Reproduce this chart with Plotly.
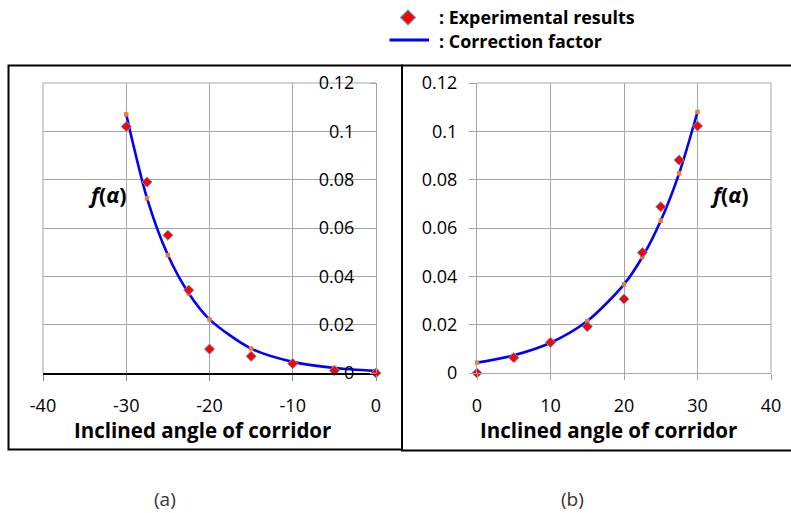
import plotly.graph_objects as go

# ---------------- data ----------------
neg_angle = [-30, -27.5, -25, -22.5, -20, -15, -10, -5, 0]
neg_exp = [0.102, 0.079, 0.057, 0.0343, 0.0099, 0.0069, 0.0039, 0.001, 0.0]
neg_corr = [0.107, 0.0723, 0.0488, 0.033, 0.0222, 0.0101, 0.0046, 0.0021, 0.0009]

pos_angle = [0, 5, 10, 15, 20, 22.5, 25, 27.5, 30]
pos_exp = [0.0, 0.0063, 0.0127, 0.0192, 0.0306, 0.0498, 0.0688, 0.0881, 0.1022]
pos_corr = [0.0043, 0.0073, 0.0125, 0.0215, 0.0367, 0.048, 0.063, 0.0826, 0.108]

neg_ticks = [-40, -30, -20, -10, 0]
neg_tick_text = ["-40", "-30", "-20", "-10", "0"]
pos_ticks = [0, 10, 20, 30, 40]
pos_tick_text = ["0", "10", "20", "30", "40"]
y_ticks = [0, 0.02, 0.04, 0.06, 0.08, 0.1, 0.12]
y_tick_text = ["0", "0.02", "0.04", "0.06", "0.08", "0.1", "0.12"]

series_names = [": Experimental results", ": Correction factor"]
x_title = "Inclined angle of corridor"
panel_labels = ["(a)", "(b)"]

# ---------------- styling ----------------
W, H = 791, 513
FONT = "Open Sans"
GRID = "#a6a6a6"
BLUE = "#0000ff"
ORANGE = "#ed7d31"
RED = "#ff0000"
OUTL = "#5b9bd5"


def px(x):
    return x / W


def py(y):
    return 1 - y / H


fig = go.Figure()

for xs, ys_c, ys_e, xa, ya in [
    (neg_angle, neg_corr, neg_exp, "x", "y"),
    (pos_angle, pos_corr, pos_exp, "x2", "y2"),
]:
    fig.add_trace(go.Scatter(
        x=xs, y=ys_c, mode="lines+markers", xaxis=xa, yaxis=ya,
        line=dict(color=BLUE, width=2.6, shape="spline", smoothing=0.8),
        marker=dict(symbol="square", color=ORANGE, size=4.5),
        showlegend=False, hoverinfo="skip", cliponaxis=False,
    ))
    fig.add_trace(go.Scatter(
        x=xs, y=ys_e, mode="markers", xaxis=xa, yaxis=ya,
        marker=dict(symbol="diamond", color=RED, size=7.8,
                    line=dict(color=OUTL, width=1)),
        showlegend=False, hoverinfo="skip", cliponaxis=False,
    ))

ydom = [py(373), py(83)]
tickfont = dict(family=FONT, size=18, color="black")

fig.update_layout(
    template="none",
    width=W, height=H, autosize=False,
    margin=dict(l=0, r=0, t=0, b=0, pad=0),
    paper_bgcolor="white", plot_bgcolor="white",
    showlegend=False,
    xaxis=dict(
        domain=[px(43), px(376)], range=[-40, 0], anchor="y", automargin=False,
        tickvals=neg_ticks, ticktext=neg_tick_text, tickfont=tickfont,
        showgrid=True, gridcolor=GRID, gridwidth=1, zeroline=False,
        showline=True, linecolor="black", linewidth=1.5,
        ticks="outside", ticklen=6, tickcolor="#888888", ticklabelstandoff=10,
    ),
    yaxis=dict(
        domain=ydom, range=[0, 0.12], anchor="free", position=px(376), side="left",
        automargin=False,
        tickvals=y_ticks, ticktext=y_tick_text, tickfont=tickfont,
        showgrid=True, gridcolor=GRID, gridwidth=1, zeroline=False,
        showline=True, linecolor=GRID, linewidth=1,
        ticks="outside", ticklen=6, tickcolor=GRID, ticklabelstandoff=12,
    ),
    xaxis2=dict(
        domain=[px(477), px(771)], range=[0, 40], anchor="y2", automargin=False,
        tickvals=pos_ticks, ticktext=pos_tick_text, tickfont=tickfont,
        showgrid=True, gridcolor=GRID, gridwidth=1, zeroline=False,
        showline=True, linecolor=GRID, linewidth=1,
        ticks="outside", ticklen=6, tickcolor=GRID, ticklabelstandoff=10,
    ),
    yaxis2=dict(
        domain=ydom, range=[0, 0.12], anchor="x2", side="left", automargin=False,
        tickvals=y_ticks, ticktext=y_tick_text, tickfont=tickfont,
        showgrid=True, gridcolor=GRID, gridwidth=1, zeroline=False,
        showline=True, linecolor=GRID, linewidth=1,
        ticks="outside", ticklen=7, tickcolor=GRID, ticklabelstandoff=8,
    ),
)

shapes = []
# plot-area frame edges (grid coloured)
for xr, yr, edges in [("x", "y", [(0, 0, 0, 1), (0, 1, 1, 1)]),
                      ("x2", "y2", [(1, 0, 1, 1), (0, 1, 1, 1)])]:
    for x0, y0, x1, y1 in edges:
        shapes.append(dict(type="line", xref=f"{xr} domain", yref=f"{yr} domain",
                           x0=x0, y0=y0, x1=x1, y1=y1,
                           line=dict(color=GRID, width=1), layer="below"))
shapes += [
    # panel boxes
    dict(type="rect", xref="paper", yref="paper",
         x0=px(8.5), x1=px(402), y0=py(449.5), y1=py(65.5),
         line=dict(color="black", width=2), layer="above"),
    dict(type="rect", xref="paper", yref="paper",
         x0=px(402), x1=px(805), y0=py(450.5), y1=py(65.5),
         line=dict(color="black", width=2), layer="above"),
    # legend line key
    dict(type="line", xref="paper", yref="paper",
         x0=px(389.5), x1=px(429), y0=py(40), y1=py(40),
         line=dict(color=BLUE, width=3)),
]
# legend diamond key
cx, cy, r = 408, 17.5, 7.5
shapes.append(dict(
    type="path", xref="paper", yref="paper",
    path=f"M {px(cx-r)},{py(cy)} L {px(cx)},{py(cy-r)} L {px(cx+r)},{py(cy)} L {px(cx)},{py(cy+r)} Z",
    fillcolor=RED, line=dict(color=OUTL, width=1.2)))
fig.update_layout(shapes=shapes)

ann = []


def add_text(text, x, y, size, xanchor="center", color="black"):
    ann.append(dict(text=text, x=px(x), y=py(y), xref="paper", yref="paper",
                    xanchor=xanchor, yanchor="middle", showarrow=False,
                    font=dict(family=FONT, size=size, color=color)))


add_text(f"<b>{series_names[0]}</b>", 437, 16.5, 17.9, xanchor="left")
add_text(f"<b>{series_names[1]}</b>", 437, 40.5, 17.9, xanchor="left")
add_text(f"<b>{x_title}</b>", 202, 430, 20.5)
add_text(f"<b>{x_title}</b>", 608.5, 430, 20.5)
add_text("<b><i>f</i>(<i>α</i>)</b>", 107, 194, 21.5)
add_text("<b><i>f</i>(<i>α</i>)</b>", 729, 195, 21.5)
add_text(panel_labels[0], 165, 499, 19, color="#333333")
add_text(panel_labels[1], 572, 499, 19, color="#333333")
fig.update_layout(annotations=ann)

fig.write_html("out.html", config={"displayModeBar": False},
               post_script="document.body.style.margin='0';")
